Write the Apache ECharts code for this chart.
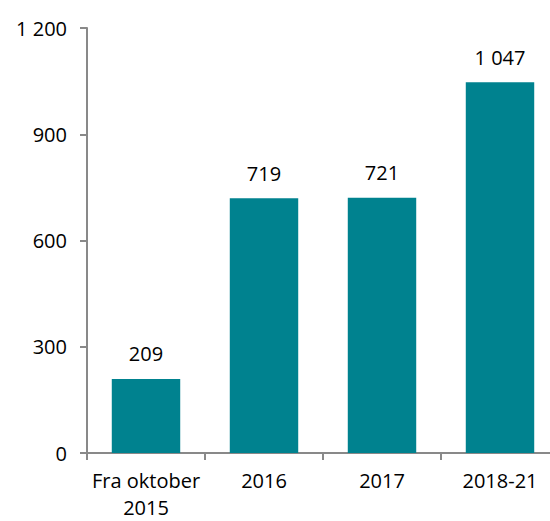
<!DOCTYPE html>
<html>
<head>
<meta charset="utf-8">
<script src="https://cdn.jsdelivr.net/npm/echarts@6/dist/echarts.min.js"></script>
<style>
  html, body { margin: 0; padding: 0; background: #ffffff; }
  #chart { width: 550px; height: 521px; }
</style>
</head>
<body>
<div id="chart"></div>
<script>
// data
const categories = ['Fra oktober\n2015', '2016', '2017', '2018-21'];
const values = [209, 719, 721, 1047];
const yTicks = [0, 300, 600, 900, 1200];

const FONT = "'Open Sans', 'Liberation Sans', sans-serif";
const TEXT = '#000000';
const AXIS = '#898989';
const BAR = '#00828F';

// "1 200" style thousands separator
const fmt = (v) => String(v).replace(/\B(?=(\d{3})+(?!\d))/g, ' ');

const chart = echarts.init(document.getElementById('chart'), null, { renderer: 'svg' });
chart.setOption({
  backgroundColor: '#ffffff',
  animation: false,
  grid: { left: 87, top: 28, width: 472, height: 425, containLabel: false, outerBoundsMode: 'none' },
  xAxis: {
    type: 'category',
    data: categories,
    axisLine: { lineStyle: { color: AXIS, width: 2 } },
    axisTick: { show: true, alignWithLabel: false, length: 7, lineStyle: { color: AXIS, width: 2 } },
    axisLabel: { interval: 0, fontFamily: FONT, fontSize: 20, color: TEXT, margin: 14, lineHeight: 27 },
  },
  yAxis: {
    type: 'value',
    min: yTicks[0],
    max: yTicks[yTicks.length - 1],
    interval: 300,
    axisLine: { show: true, lineStyle: { color: AXIS, width: 2 } },
    axisTick: { show: true, length: 7, lineStyle: { color: AXIS, width: 2 } },
    splitLine: { show: false },
    axisLabel: { fontFamily: FONT, fontSize: 20, color: TEXT, margin: 20, formatter: fmt },
  },
  series: [{
    type: 'bar',
    data: values,
    barWidth: '58%',
    itemStyle: { color: BAR },
    label: {
      show: true,
      position: 'top',
      distance: 15,
      fontFamily: FONT,
      fontSize: 20,
      color: TEXT,
      formatter: (p) => fmt(p.value),
    },
  }],
});
</script>
</body>
</html>
